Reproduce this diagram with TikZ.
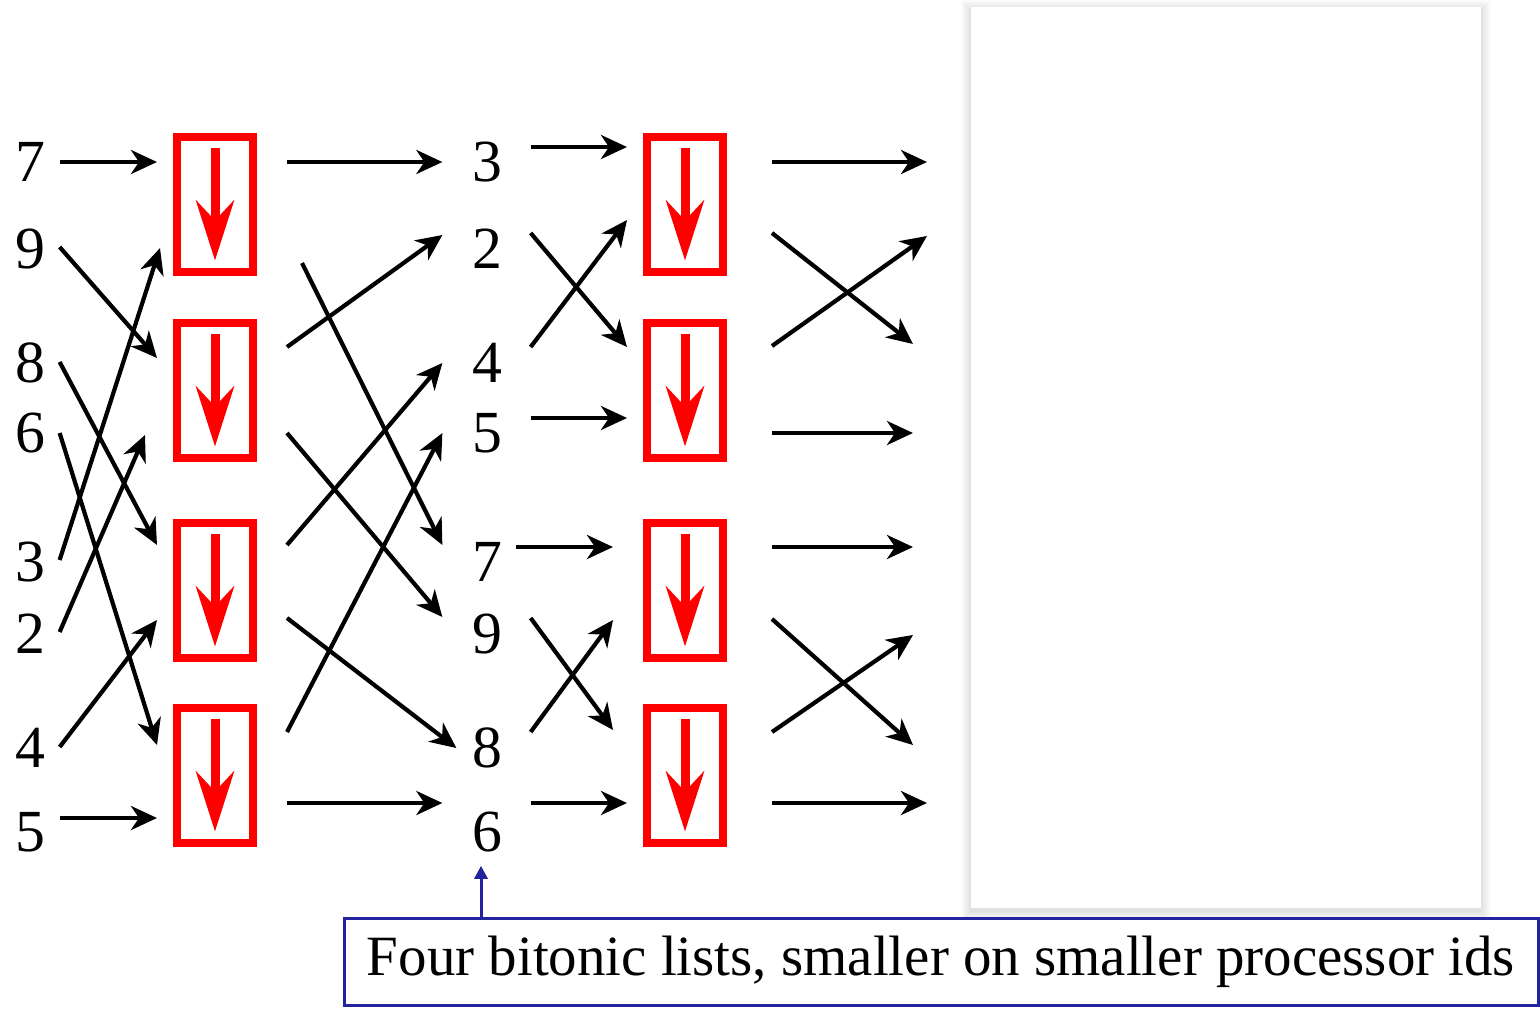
\documentclass[tikz,border=0pt]{standalone}
\usepackage{fontspec}
\setmainfont{Liberation Serif}
\usetikzlibrary{arrows.meta}
\definecolor{notecol}{RGB}{35,35,160}

\begin{document}
\begin{tikzpicture}[x=0.1mm, y=-0.1mm,
  num/.style={font=\fontsize{17}{20}\selectfont, inner sep=0pt},
  cmp/.style={draw=red, line width=0.8mm, minimum width=7.6mm,
    minimum height=13.5mm, inner sep=0pt},
  wire/.style={line width=0.42mm, -{Stealth[length=2.6mm,width=2.4mm,inset=0.8mm]}},
  sortdir/.style={red, line width=0.9mm, -{Stealth[length=6mm,width=3.8mm,inset=2mm]}},
  callout/.style={notecol, line width=0.3mm, -{Triangle[length=1.3mm,width=1.3mm]}}]
\useasboundingbox (0,0) rectangle (1540,1009);
% blank panel on the right
\foreach \k in {1,...,10}
  \fill[black, opacity=0.012] (971-\k,10-\k) rectangle (1481+\k,911+\k);
\fill[white] (971,7) rectangle (1481,908);
% the two columns of values
\foreach \v/\y [count=\i] in {7/162,9/249,8/363,6/433,3/562,2/634,4/748,5/832}
  \node[num] (L\i) at (30,\y) {\v};
\foreach \v/\y [count=\i] in {3/162,2/249,4/363,5/433,7/562,9/634,8/748,6/832}
  \node[num] (M\i) at (487,\y) {\v};
% compare boxes
\foreach \y [count=\i] in {204,390,590,775} {
  \node[cmp] (A\i) at (215,\y) {};
  \node[cmp] (C\i) at (685,\y) {};
  \draw[sortdir] ([yshift=-1.5mm]A\i.north) -- ([yshift=1.5mm]A\i.south);
  \draw[sortdir] ([yshift=-1.5mm]C\i.north) -- ([yshift=1.5mm]C\i.south);
}
\foreach \x/\y [count=\i] in {927/162,927/236,913/344,913/433,913/547,913/635,913/745,927/803}
  \coordinate (O\i) at (\x,\y);
% values into the first boxes
\foreach \s/\sy/\t/\tx/\ty in {1/0/1/-16/-42, 2/-2/2/-16/-32, 3/-1/3/-16/-45,
    4/0/4/-16/-30, 5/-2/1/-13/44, 6/-2/2/-28/45, 7/-1/3/-16/30, 8/-14/4/-16/43}
  \draw[wire] ([shift={(14,\sy)}]L\s.east) -- ([shift={(\tx,\ty)}]A\t.west);
% first boxes to the middle column
\foreach \s/\sx/\sy/\t/\tx/\ty in {1/30/-42/1/-29/0, 2/30/-43/2/-29/-14,
    1/45/59/5/-29/-17, 2/30/43/6/-29/-17, 3/30/-45/3/-29/0, 4/30/-43/4/-29/0,
    3/30/28/7/-15/0, 4/30/28/8/-29/-29}
  \draw[wire] ([shift={(\sx,\sy)}]A\s.east) -- ([shift={(\tx,\ty)}]M\t.west);
% middle column into the second boxes
\foreach \s/\sx/\sy/\t/\tx/\ty in {1/28/-15/1/-16/-57, 2/28/-16/2/-16/-43,
    3/28/-16/1/-16/16, 4/28/-15/2/-16/28, 5/13/-15/3/-30/-43, 6/28/-16/4/-30/-45,
    7/28/-16/3/-30/30, 8/28/-29/4/-16/28}
  \draw[wire] ([shift={(\sx,\sy)}]M\s.east) -- ([shift={(\tx,\ty)}]C\t.west);
% out of the second boxes
\foreach \s/\sy/\t in {1/-42/1, 1/29/3, 2/-44/2, 2/43/4, 3/-43/5, 3/29/7, 4/-43/6, 4/28/8}
  \draw[wire] ([shift={(45,\sy)}]C\s.east) -- (O\t);
% note
\node[draw=notecol, line width=0.3mm, minimum width=119.4mm, minimum height=8.7mm,
  inner sep=0pt, font=\fontsize{16.2}{19}\selectfont] (note) at (941,962)
  {Four bitonic lists, smaller on smaller processor ids};
\coordinate (ntip) at ([shift={(-6,13)}]M8.south);
\draw[callout] (ntip |- note.north) -- (ntip);
\end{tikzpicture}
\end{document}
